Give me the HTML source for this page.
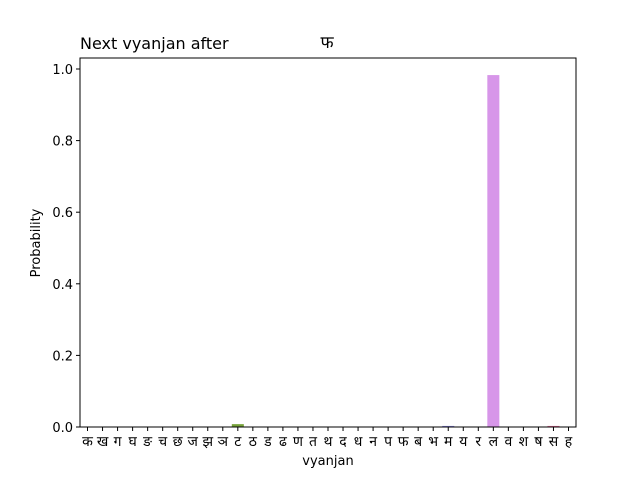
<!DOCTYPE html>
<html><head><meta charset="utf-8"><style>
body{margin:0;background:#fff;}
svg text{font-family:"DejaVu Sans","Liberation Sans","Noto Sans CJK SC",sans-serif;fill:#000;}
</style></head><body>
<svg id="chart" width="640" height="480">
<text x="80" y="49" font-size="16">Next vyanjan after</text>
<text x="327" y="48" font-size="17" text-anchor="middle">फ</text>
<g id="bars"></g>
<rect x="80" y="58" width="496" height="369" fill="none" stroke="#000" stroke-width="1"/>
<g id="axes"></g>
<text x="328" y="465" font-size="13" text-anchor="middle">vyanjan</text>
<text transform="translate(40,243) rotate(-90)" font-size="13" text-anchor="middle">Probability</text>
</svg>
<script>
const categories=["क","ख","ग","घ","ङ","च","छ","ज","झ","ञ","ट","ठ","ड","ढ","ण","त","थ","द","ध","न","प","फ","ब","भ","म","य","र","ल","व","श","ष","स","ह"];
const values=[0,0,0,0,0,0,0,0,0,0,0.008,0,0,0,0,0,0,0,0,0,0,0,0,0,0.003,0,0,0.983,0,0,0,0.003,0];
const colors=["#f77189","#f7754f","#e98132","#d68a31","#c59532","#b59b32","#a59f31","#8fa531","#77aa31","#50b131","#77a33a","#34b07a","#35ad8e","#36ab9a","#37aaa4","#38a9ac","#39a7b5","#3ba5bf","#3ea2cb","#41a0d8","#4a9ce8","#6b95f4","#8e8cf4","#a685f4","#8a86e0","#cc79f4","#e56ff0","#d796e9","#f46bd0","#f56ebd","#f56fab","#e8709a","#f66a8b"];
const yTicks=[0,0.2,0.4,0.6,0.8,1.0];
const X0=80,W=496,Y0=427,YT=69;
const ns="http://www.w3.org/2000/svg";
const step=W/categories.length;
const xs=i=>X0+step*i;
const ys=v=>Y0-(Y0-YT)*v;
const bars=document.getElementById('bars'),axes=document.getElementById('axes');
categories.forEach((c,i)=>{
  const r=document.createElementNS(ns,'rect');
  r.setAttribute('x',xs(i)+step*0.1);r.setAttribute('width',step*0.8);
  r.setAttribute('y',ys(values[i]));r.setAttribute('height',Y0-ys(values[i]));
  r.setAttribute('fill',colors[i]);
  
  
  bars.appendChild(r);
  const cx=xs(i)+step/2;
  const t=document.createElementNS(ns,'line');
  t.setAttribute('x1',cx);t.setAttribute('x2',cx);t.setAttribute('y1',Y0);t.setAttribute('y2',Y0+4);t.setAttribute('stroke','#000');
  
  
  axes.appendChild(t);
  const l=document.createElementNS(ns,'text');
  l.setAttribute('x',cx);l.setAttribute('y',Y0+19);l.setAttribute('font-size','14');l.setAttribute('text-anchor','middle');
  l.textContent=c;
  
  
  axes.appendChild(l);
});
yTicks.forEach(v=>{
  const y=ys(v);
  const t=document.createElementNS(ns,'line');
  t.setAttribute('x1',X0-4);t.setAttribute('x2',X0);t.setAttribute('y1',y);t.setAttribute('y2',y);t.setAttribute('stroke','#000');
  
  
  axes.appendChild(t);
  const l=document.createElementNS(ns,'text');
  l.setAttribute('x',X0-7);l.setAttribute('y',y+5);l.setAttribute('font-size','13');l.setAttribute('text-anchor','end');
  l.textContent=v.toFixed(1);
  
  
  axes.appendChild(l);
});
</script>
</body></html>
